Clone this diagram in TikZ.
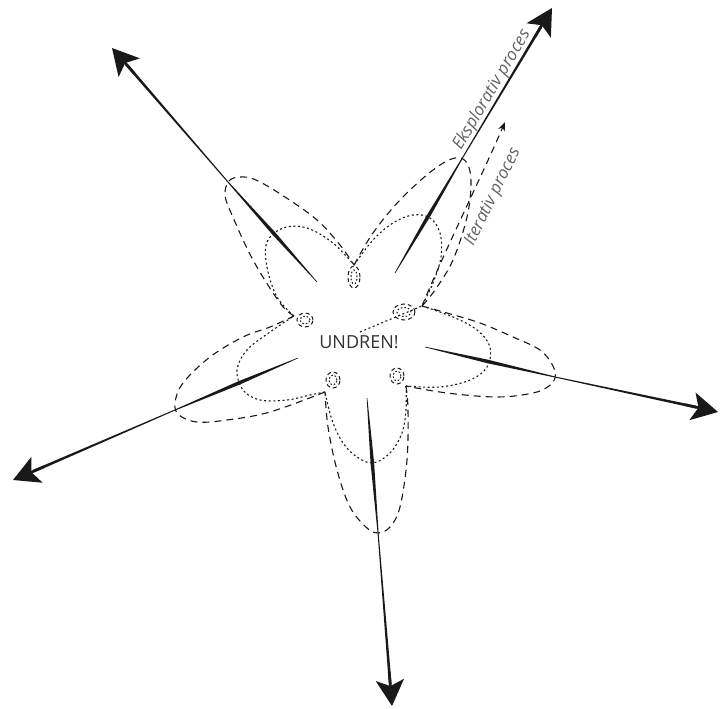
\documentclass[tikz,border=0pt]{standalone}
\usepackage{fontspec}
\setmainfont{Open Sans}
\usetikzlibrary{calc,arrows.meta}
\definecolor{ink}{RGB}{25,25,25}
\definecolor{labelgray}{RGB}{105,95,95}
\definecolor{textgray}{RGB}{50,50,50}
\begin{document}
\begin{tikzpicture}[x=1pt,y=-1pt,
  petaldash/.style={draw=ink, line width=1.1pt, dash pattern=on 7pt off 5pt},
  petaldot/.style={draw=ink, line width=1.1pt, dash pattern=on 2pt off 2.6pt},
  loopdash/.style={draw=ink, line width=1pt, dash pattern=on 4pt off 3pt},
  loopdot/.style={draw=ink, line width=1pt, dash pattern=on 1.6pt off 2pt},
  shaft/.style={fill=ink},
  bighead/.style={draw=ink, line width=2.6pt, -{Stealth[length=26pt,width=28pt,inset=6pt]}},
  smallhead/.style={-{Stealth[length=9pt,width=7pt]}},
  labeltext/.style={text=labelgray, font=\fontsize{17}{20}\selectfont\itshape, inner sep=0pt},
  centertext/.style={text=textgray, font=\fontsize{18}{20}\selectfont, inner sep=1pt}
]
\useasboundingbox (0,0) rectangle (720,709);

% arrows: start, crossing, end
\coordinate (s1) at (317,282); \coordinate (c1) at (228,182); \coordinate (e1) at (112,48);
\coordinate (s2) at (395,273); \coordinate (c2) at (463,157); \coordinate (e2) at (552,8);
\coordinate (s3) at (425,347); \coordinate (c3) at (555,377); \coordinate (e3) at (718,412);
\coordinate (s4) at (367,398); \coordinate (c4) at (378,532); \coordinate (e4) at (392,706);
\coordinate (s5) at (298,358); \coordinate (c5) at (175,410); \coordinate (e5) at (13,480);

\foreach \n in {1,...,5}{
  \coordinate (m\n) at ($(s\n)!0.48!(c\n)$);
  \coordinate (h\n) at ($(e\n)!22pt!(s\n)$);
  \coordinate (b\n) at ($(e\n)!34pt!(s\n)$);
  \fill[shaft] ($(s\n)!0.3pt!90:(e\n)$) -- ($(m\n)!1.8pt!90:(e\n)$) -- ($(c\n)!0.5pt!90:(e\n)$)
    -- ($(h\n)!1.4pt!90:(e\n)$) -- ($(h\n)!1.4pt!-90:(e\n)$) -- ($(c\n)!0.5pt!-90:(e\n)$)
    -- ($(m\n)!1.8pt!-90:(e\n)$) -- ($(s\n)!0.3pt!-90:(e\n)$) -- cycle;
  \draw[bighead] (b\n) -- (e\n);
}

% junctions
\coordinate (J1) at (354,265);
\coordinate (J2) at (422,306);
\coordinate (J3) at (406,386);
\coordinate (J4) at (325,392);
\coordinate (J5) at (294,316);

% petals
\draw[petaldash] plot[smooth, tension=0.6] coordinates {(J5) (280,303) (253,260) (232,215) (225,195) (229,181) (240,177) (256,180) (285,197) (317,220) (340,245) (J1)};
\draw[petaldot] plot[smooth, tension=0.6] coordinates {(J5) (277,297) (267,267) (267,242) (283,228) (307,228) (333,243) (J1)};

\draw[petaldash] plot[smooth, tension=0.6] coordinates {(J1) (373,233) (400,200) (433,170) (455,158) (467,163) (471,183) (467,217) (453,260) (435,290) (J2)};
\draw[petaldot] plot[smooth, tension=0.6] coordinates {(J1) (373,240) (393,223) (413,215) (430,218) (440,233) (441,257) (433,283) (J2)};

\draw[petaldash] plot[smooth, tension=0.6] coordinates {(J2) (447,313) (480,323) (513,337) (540,350) (553,366) (555,378) (549,386) (533,393) (497,397) (447,393) (J3)};
\draw[petaldot] plot[smooth, tension=0.6] coordinates {(J2) (453,317) (477,330) (490,347) (487,367) (470,380) (440,387) (J3)};

\draw[petaldash] plot[smooth, tension=0.6] coordinates {(J3) (408,410) (407,460) (400,507) (390,527) (378,533) (367,528) (350,507) (337,470) (328,427) (J4)};
\draw[petaldot] plot[smooth, tension=0.6] coordinates {(J3) (406,410) (402,433) (390,453) (373,463) (357,457) (343,443) (332,420) (J4)};

\draw[petaldash] plot[smooth, tension=0.6] coordinates {(J4) (270,412) (227,420) (197,422) (179,415) (175,403) (183,383) (210,357) (243,337) (270,327) (J5)};
\draw[petaldot] plot[smooth, tension=0.6] coordinates {(J4) (310,395) (287,400) (260,400) (243,390) (237,370) (247,350) (270,332) (J5)};

% small loops at junctions
\coordinate (L1) at (354,277);
\coordinate (L2) at (404,312);
\coordinate (L3) at (397,376);
\coordinate (L4) at (333,380);
\coordinate (L5) at (305,320);
\draw[loopdash] (L1) ellipse [x radius=6pt, y radius=11pt];
\draw[loopdot] (L1) ellipse [x radius=3pt, y radius=7pt];
\draw[loopdash] (L2) ellipse [x radius=11pt, y radius=8pt];
\draw[loopdot] (L2) ellipse [x radius=7pt, y radius=4.5pt];
\draw[loopdash] (L3) ellipse [x radius=7pt, y radius=8pt];
\draw[loopdot] (L3) ellipse [x radius=4pt, y radius=5pt];
\draw[loopdash] (L4) ellipse [x radius=7pt, y radius=8pt];
\draw[loopdot] (L4) ellipse [x radius=4pt, y radius=5pt];
\draw[loopdash] (L5) ellipse [x radius=8pt, y radius=7pt];
\draw[loopdot] (L5) ellipse [x radius=5pt, y radius=4pt];

% iterative path
\coordinate (dstart) at (360,332);
\draw[petaldot] (dstart) -- (J2);
\coordinate (itip) at (505,122);
\draw[petaldash, smallhead] (J2) .. controls (445,250) and (480,180) .. (itip);

% labels
\node[centertext] (undren) at (359,342) {UNDREN!};
\node[labeltext, rotate=59.4] (eksp) at (492,90) {Eksplorativ proces};
\node[labeltext, rotate=64] (iter) at (493,197) {Iterativ proces};
\end{tikzpicture}
\end{document}
